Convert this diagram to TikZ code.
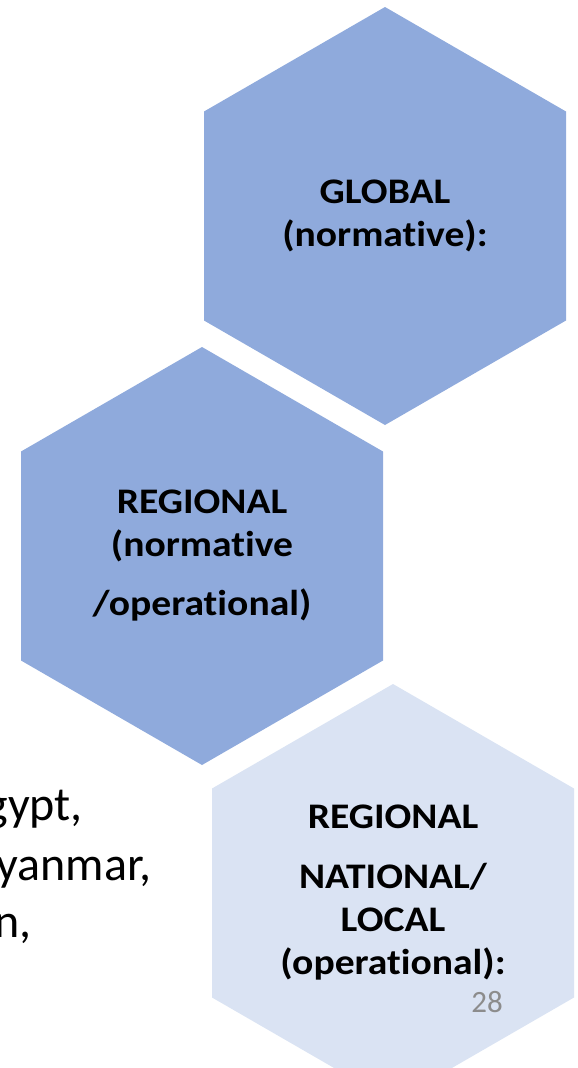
\documentclass[tikz,border=0pt]{standalone}
\usepackage{fontspec}
\setmainfont{Carlito}
\newfontfamily\hexfont{Carlito}[FakeStretch=1.1,Ligatures=NoCommon]
\usetikzlibrary{shapes.geometric}
\definecolor{hexblue}{HTML}{8FAADC}
\definecolor{hexpale}{HTML}{DAE3F3}
\definecolor{pagegray}{HTML}{8C8C8C}
\begin{document}
\begin{tikzpicture}[x=1pt,y=-1pt,
  hexcell/.style={regular polygon,regular polygon sides=6,shape border rotate=30,
    minimum size=418pt,inner sep=0pt,outer sep=0pt,align=center,
    font=\hexfont\bfseries\fontsize{36}{43}\selectfont},
  listline/.style={anchor=base east,inner sep=0pt,font=\fontsize{48}{58}\selectfont}]
\useasboundingbox (0,0) rectangle (578,1068);
\clip (0,0) rectangle (578,1068);
% the three levels
\node[hexcell,fill=hexblue] (global) at (385,216) {GLOBAL\\(normative):};
\node[hexcell,fill=hexblue] (regional) at (202,556) {REGIONAL\\(normative\\[16pt]/operational)};
\node[hexcell,fill=hexpale] (local) at (393,893)
  {REGIONAL\\[17pt]NATIONAL/\\LOCAL\\(operational):};
% cut off list on the left
\node[listline] (egypt) at (83,820) {gypt,};
\node[listline] (myanmar) at (152,880) {yanmar,};
\node[listline] (sudan) at (32,937) {n,};
% slide number
\node[anchor=base,inner sep=0pt,text=pagegray,font=\fontsize{31}{37}\selectfont] (slidenum) at (487,1012) {28};
\end{tikzpicture}
\end{document}
